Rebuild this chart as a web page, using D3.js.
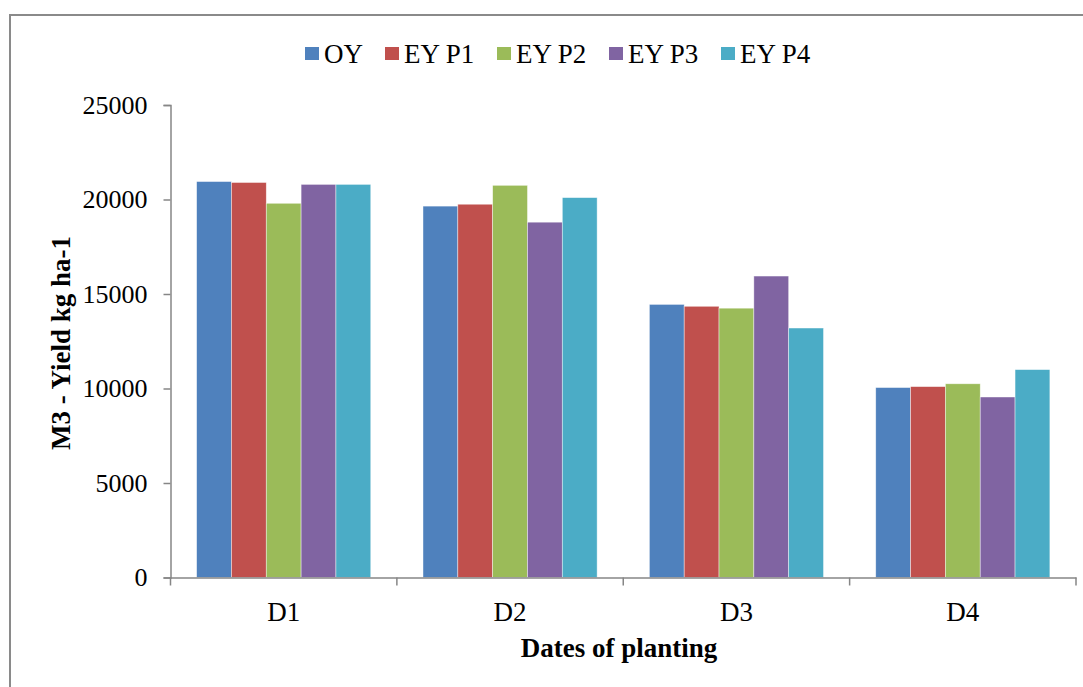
<!DOCTYPE html>
<html><head><meta charset="utf-8">
<script src="https://cdn.jsdelivr.net/npm/d3@7"></script>
<style>body{margin:0;background:#fff}svg{display:block}text{font-family:"Liberation Serif","Times New Roman",serif}</style>
</head><body>
<script>
const categories = ["D1","D2","D3","D4"];
const seriesNames = ["OY","EY P1","EY P2","EY P3","EY P4"];
const colors = ["#4f81bd","#c0504d","#9bbb59","#8064a2","#4bacc6"];
const OY   = [20950, 19650, 14450, 10050];
const EYP1 = [20900, 19750, 14350, 10100];
const EYP2 = [19800, 20750, 14250, 10250];
const EYP3 = [20800, 18800, 15950, 9550];
const EYP4 = [20800, 20100, 13200, 11000];
const yTicks = [0,5000,10000,15000,20000,25000];
const seriesValues = [OY, EYP1, EYP2, EYP3, EYP4];

(function(){
const W = 1083, H = 687;
const FF = '"Liberation Serif","Times New Roman",serif';
const svg = d3.select("body").append("svg").attr("width", W).attr("height", H);

// outer frame
svg.append("path").attr("d", `M10,${H+5} L10,15 L${W+5},15`).attr("fill","none").attr("stroke","#8a8a8a").attr("stroke-width",2);

const pL = 170.5, pR = 1076, pT = 105, pB = 577.5;
const x = d3.scaleBand().domain(categories).range([pL, pR]).paddingInner(0).paddingOuter(0);
const bw = x.bandwidth() / 6.5;
const y = d3.scaleLinear().domain([0, 25000]).range([pB, pT]);

// bars
seriesNames.forEach((s, si) => {
  svg.append("g").selectAll("rect").data(categories).join("rect")
    .attr("x", c => x(c) + bw * 0.75 + si * bw)
    .attr("y", (c, i) => y(seriesValues[si][i]))
    .attr("width", bw)
    .attr("height", (c, i) => y(0) - y(seriesValues[si][i]))
    .attr("fill", colors[si])
    .attr("stroke", "rgba(255,255,255,0.6)").attr("stroke-width", 0.7);
});

// y axis
const yAxis = svg.append("g").attr("transform", `translate(${pL},0)`)
  .call(d3.axisLeft(y).tickValues(yTicks).tickSize(7).tickPadding(16).tickFormat(d3.format("d")));
yAxis.attr("font-family", FF);
yAxis.select(".domain").attr("stroke","#868686").attr("stroke-width",1.5);
yAxis.selectAll(".tick line").attr("stroke","#868686").attr("stroke-width",1.5);
yAxis.selectAll(".tick text").attr("font-size", 26).attr("fill","#000");

// x axis
const xAxis = svg.append("g").attr("transform", `translate(0,${pB})`)
  .call(d3.axisBottom(x).tickSize(0).tickPadding(24));
xAxis.attr("font-family", FF);
xAxis.select(".domain").attr("stroke","#868686").attr("stroke-width",1.5);
xAxis.selectAll(".tick text").attr("font-size", 27).attr("fill","#000");
const bounds = categories.map(c => x(c)).concat([pR]);
svg.append("g").selectAll("line").data(bounds).join("line")
  .attr("x1", d => d).attr("x2", d => d).attr("y1", pB).attr("y2", pB + 8)
  .attr("stroke","#868686").attr("stroke-width",1.5);

// axis titles
svg.append("text").attr("x", 619).attr("y", 657).attr("text-anchor","middle")
  .attr("font-size", 27).attr("font-weight","bold").text("Dates of planting");
svg.append("text").attr("transform", `translate(70,${343}) rotate(-90)`).attr("text-anchor","middle")
  .attr("font-size", 27).attr("font-weight","bold").text("M3 - Yield kg ha-1");

// legend
const legX = [305, 385, 497, 609, 721];
const leg = svg.append("g");
seriesNames.forEach((s, i) => {
  leg.append("rect").attr("x", legX[i]).attr("y", 47).attr("width", 14).attr("height", 13).attr("fill", colors[i]);
  leg.append("text").attr("x", legX[i] + 19).attr("y", 62.5).attr("font-size", 27).text(s);
});
})();
</script>
</body></html>
